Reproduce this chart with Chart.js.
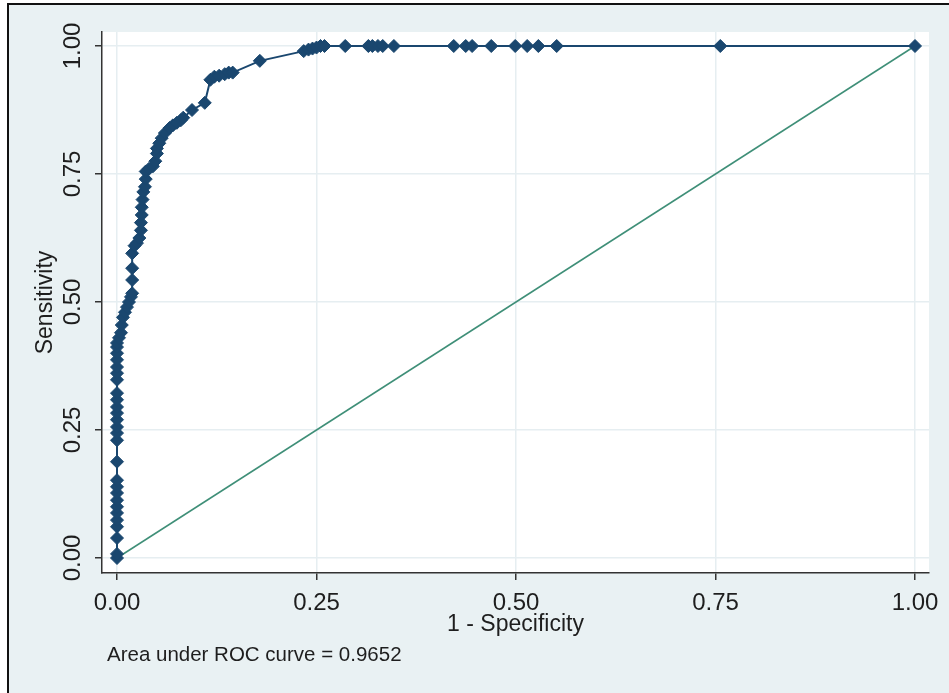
<!DOCTYPE html>
<html>
<head>
<meta charset="utf-8">
<script src="https://cdn.jsdelivr.net/npm/chart.js@4/dist/chart.umd.min.js"></script>
<style>
  html, body { margin: 0; padding: 0; background: #fff; }
  canvas { display: block; }
</style>
</head>
<body>
<canvas id="rocChart" width="949" height="693"></canvas>
<script>
// ROC curve data (1 - specificity, sensitivity)
const fprVals = [
    0, 0, 0, 0, 0, 0, 0, 0, 0, 0, 0, 0, 0, 0, 0, 0, 0, 0, 0, 0, 0, 0, 0, 0, 0, 0, 0,
    0.0025, 0.005, 0.006, 0.0075, 0.01, 0.0125, 0.015, 0.0175, 0.019, 0.019, 0.019, 0.019,
    0.022, 0.025, 0.028, 0.03, 0.03, 0.031, 0.031, 0.032, 0.033, 0.035, 0.036, 0.036,
    0.04, 0.045, 0.048, 0.05, 0.05, 0.053, 0.056, 0.06, 0.066, 0.07, 0.075, 0.08, 0.083,
    0.094, 0.11, 0.117, 0.122, 0.128, 0.135, 0.14, 0.145, 0.179,
    0.234, 0.24, 0.245, 0.25, 0.255, 0.26, 0.286, 0.315, 0.32, 0.327, 0.333, 0.347,
    0.422, 0.437, 0.445, 0.469, 0.499, 0.514, 0.528, 0.551, 0.756, 1
];
const tprVals = [
    0, 0.008, 0.039, 0.061, 0.074, 0.088, 0.1, 0.113, 0.127, 0.139, 0.152, 0.188, 0.23,
    0.244, 0.256, 0.27, 0.283, 0.295, 0.309, 0.322, 0.348, 0.361, 0.373, 0.387, 0.4, 0.412, 0.42,
    0.43, 0.44, 0.455, 0.47, 0.48, 0.49, 0.5, 0.51, 0.517, 0.543, 0.566, 0.595,
    0.61, 0.615, 0.625, 0.64, 0.655, 0.67, 0.685, 0.7, 0.715, 0.725, 0.74, 0.755,
    0.76, 0.765, 0.775, 0.79, 0.8, 0.81, 0.82, 0.83, 0.84, 0.845, 0.85, 0.855, 0.86,
    0.875, 0.889, 0.934, 0.94, 0.942, 0.945, 0.948, 0.948, 0.971,
    0.99, 0.993, 0.995, 0.997, 1, 1, 1, 1, 1, 1, 1, 1,
    1, 1, 1, 1, 1, 1, 1, 1, 1, 1
];
// reference line
const diagX = [0, 1];
const diagY = [0, 1];
// axis ticks
const tickVals = [0, 0.25, 0.5, 0.75, 1];
const xTitle = '1 - Specificity';
const yTitle = 'Sensitivity';
const aucNote = 'Area under ROC curve = 0.9652';

const FONT = '"Liberation Sans", Arial, sans-serif';
const navy = '#1a476f';
const textColor = '#1e1e1e';

// 背景和边框
const bgPlugin = {
    id: 'bgPlugin',
    beforeDraw(chart) {
        const ctx = chart.ctx;
        const a = chart.chartArea;
        ctx.save();
        ctx.fillStyle = '#ffffff';
        ctx.fillRect(0, 0, chart.width, chart.height);
        ctx.fillStyle = '#e9f1f3';
        ctx.fillRect(9, 5, chart.width - 9, chart.height - 5);
        ctx.fillStyle = '#111111';
        ctx.fillRect(7, 3, chart.width - 7, 2);
        ctx.fillRect(7, 3, 2, chart.height - 3);
        ctx.fillStyle = '#ffffff';
        ctx.fillRect(a.left, a.top, a.right - a.left, a.bottom - a.top);
        ctx.restore();
    },
    afterDraw(chart) {
        const ctx = chart.ctx;
        ctx.save();
        ctx.fillStyle = textColor;
        ctx.font = '20.5px ' + FONT;
        ctx.textBaseline = 'alphabetic';
        ctx.textAlign = 'left';
        ctx.fillText(aucNote, 107, 661);
        ctx.restore();
    }
};

function setTicks(axis) {
    axis.ticks = tickVals.map(v => ({ value: v }));
}

new Chart(document.getElementById('rocChart'), {
    type: 'scatter',
    data: {
        datasets: [{
            label: 'ROC',
            data: fprVals.map((x, i) => ({ x: x, y: tprVals[i] })),
            showLine: true,
            borderColor: navy,
            borderWidth: 2,
            backgroundColor: navy,
            pointStyle: 'rectRot',
            pointRadius: 6.5,
            pointBorderWidth: 1,
            pointBorderColor: navy,
            pointBackgroundColor: navy,
            tension: 0
        }, {
            label: 'Reference',
            data: diagX.map((x, i) => ({ x: x, y: diagY[i] })),
            showLine: true,
            borderColor: '#3f8f78',
            borderWidth: 1.5,
            pointRadius: 0
        }]
    },
    options: {
        responsive: false,
        animation: false,
        layout: { padding: { left: 0, right: 20, top: 32, bottom: 0 } },
        plugins: {
            legend: { display: false },
            tooltip: { enabled: false }
        },
        scales: {
            x: {
                type: 'linear',
                min: -15 / 798,
                max: 1 + 14 / 798,
                afterBuildTicks: setTicks,
                afterFit(scale) { scale.height = 120; },
                border: { color: '#333333', width: 1.5 },
                grid: {
                    color: '#e6eef1',
                    lineWidth: 1.5,
                    tickColor: '#333333',
                    tickWidth: 1.5,
                    tickLength: 7
                },
                ticks: {
                    font: { family: FONT, size: 24 },
                    color: textColor,
                    padding: 9,
                    maxRotation: 0,
                    autoSkip: false,
                    callback: v => v.toFixed(2)
                },
                title: {
                    display: true,
                    text: xTitle,
                    color: textColor,
                    font: { family: FONT, size: 23 },
                    padding: { top: 0, bottom: 55 }
                }
            },
            y: {
                type: 'linear',
                min: -15 / 512,
                max: 1 + 14 / 512,
                afterBuildTicks: setTicks,
                afterFit(scale) { scale.width = 102; },
                border: { color: '#333333', width: 1.5 },
                grid: {
                    color: '#e6eef1',
                    lineWidth: 1.5,
                    tickColor: '#333333',
                    tickWidth: 1.5,
                    tickLength: 7
                },
                ticks: {
                    font: { family: FONT, size: 24 },
                    color: textColor,
                    padding: -2,
                    minRotation: 90,
                    maxRotation: 90,
                    crossAlign: 'center',
                    autoSkip: false,
                    callback: v => v.toFixed(2)
                },
                title: {
                    display: true,
                    text: yTitle,
                    color: textColor,
                    font: { family: FONT, size: 23 },
                    padding: { top: 32, bottom: 0 }
                }
            }
        }
    },
    plugins: [bgPlugin]
});
</script>
</body>
</html>
